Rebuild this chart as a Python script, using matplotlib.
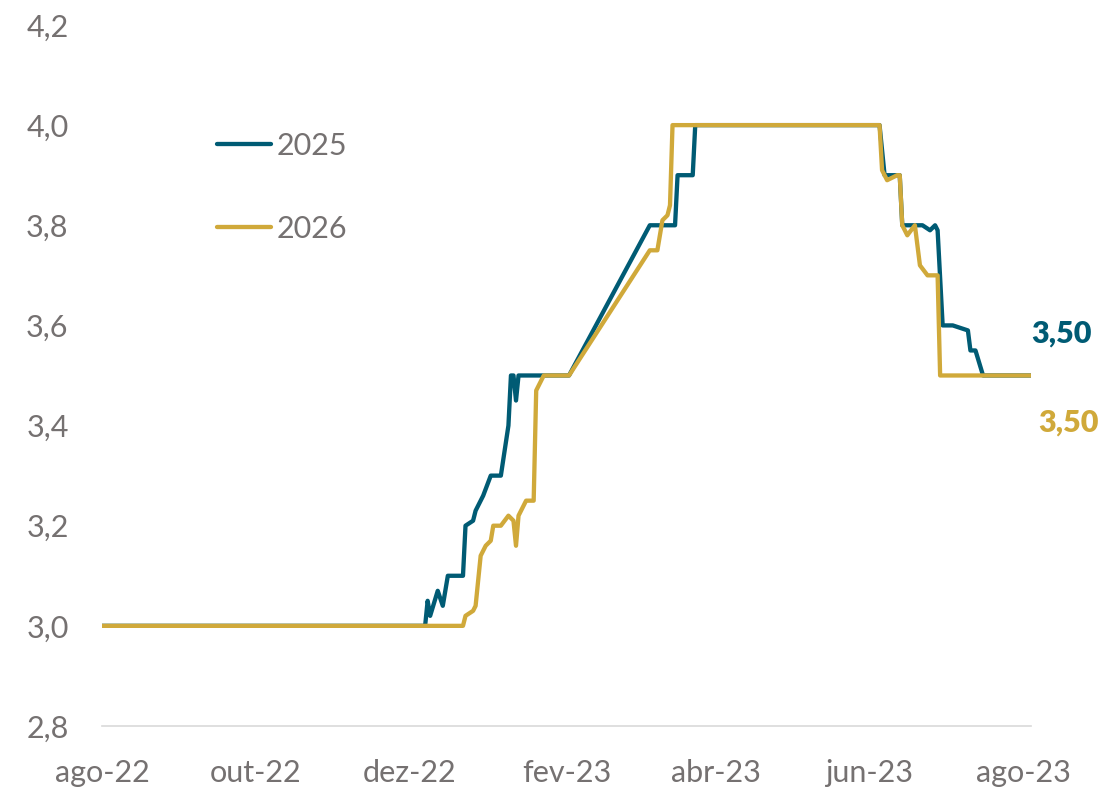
import matplotlib as mpl
import matplotlib.pyplot as plt
import pandas as pd

mpl.rcParams.update(
    {
        "font.family": ["Lato", "DejaVu Sans"],
        "font.size": 22,
        "axes.spines.top": False,
        "axes.spines.right": False,
        "axes.spines.left": False,
        "figure.facecolor": "white",
    }
)

C_BLUE = "#005B74"
C_GOLD = "#D0A93A"
C_TEXT = "#757171"
C_AXIS = "#D9D9D9"

# 2025 expectation series (breakpoints)
dates_2025 = [
    "2022-08-01", "2022-12-07", "2022-12-08", "2022-12-09", "2022-12-12",
    "2022-12-14", "2022-12-16", "2022-12-22", "2022-12-23", "2022-12-26",
    "2022-12-27", "2022-12-29", "2022-12-30", "2023-01-02", "2023-01-06",
    "2023-01-09", "2023-01-10", "2023-01-11", "2023-01-12", "2023-01-13",
    "2023-02-02", "2023-03-06", "2023-03-16", "2023-03-17", "2023-03-23",
    "2023-03-24", "2023-06-05", "2023-06-07", "2023-06-13", "2023-06-14",
    "2023-06-22", "2023-06-25", "2023-06-27", "2023-06-28", "2023-06-30",
    "2023-07-04", "2023-07-10", "2023-07-11", "2023-07-13", "2023-07-16",
    "2023-08-04",
]
vals_2025 = [
    3.00, 3.00, 3.05, 3.02, 3.07,
    3.04, 3.10, 3.10, 3.20, 3.21,
    3.23, 3.25, 3.26, 3.30, 3.30,
    3.40, 3.50, 3.50, 3.45, 3.50,
    3.50, 3.80, 3.80, 3.90, 3.90,
    4.00, 4.00, 3.90, 3.90, 3.80,
    3.80, 3.79, 3.80, 3.79, 3.60,
    3.60, 3.59, 3.55, 3.55, 3.50,
    3.50,
]

# 2026 expectation series
dates_2026 = [
    "2022-08-01", "2022-12-22", "2022-12-23", "2022-12-26", "2022-12-27",
    "2022-12-29", "2022-12-31", "2023-01-02", "2023-01-03", "2023-01-06",
    "2023-01-09", "2023-01-11", "2023-01-12", "2023-01-13", "2023-01-16",
    "2023-01-19", "2023-01-20", "2023-01-23", "2023-02-02", "2023-03-06",
    "2023-03-09", "2023-03-10", "2023-03-11", "2023-03-13", "2023-03-14",
    "2023-03-15", "2023-06-05", "2023-06-06", "2023-06-08", "2023-06-12",
    "2023-06-13", "2023-06-14", "2023-06-16", "2023-06-19", "2023-06-21",
    "2023-06-24", "2023-06-28", "2023-06-29", "2023-08-04",
]
vals_2026 = [
    3.00, 3.00, 3.02, 3.03, 3.04,
    3.14, 3.16, 3.17, 3.20, 3.20,
    3.22, 3.21, 3.16, 3.22, 3.25,
    3.25, 3.47, 3.50, 3.50, 3.75,
    3.75, 3.78, 3.81, 3.82, 3.84,
    4.00, 4.00, 3.91, 3.89, 3.90,
    3.90, 3.80, 3.78, 3.80, 3.72,
    3.70, 3.70, 3.50, 3.50,
]

tick_dates = ["2022-08-01", "2022-10-01", "2022-12-01", "2023-02-01",
              "2023-04-01", "2023-06-01", "2023-08-01"]
tick_labels = ["ago-22", "out-22", "dez-22", "fev-23", "abr-23", "jun-23", "ago-23"]
y_ticks = [2.8, 3.0, 3.2, 3.4, 3.6, 3.8, 4.0, 4.2]

x25 = pd.to_datetime(dates_2025)
x26 = pd.to_datetime(dates_2026)

fig = plt.figure(figsize=(11.06, 7.93), dpi=100)
ax = fig.add_axes([0.0922, 0.0845, 0.8400, 0.884])

ax.plot(x25, vals_2025, color=C_BLUE, lw=3.1, label="2025", solid_joinstyle="round")
ax.plot(x26, vals_2026, color=C_GOLD, lw=3.1, label="2026", solid_joinstyle="round")

ax.set_xlim(x25[0], x25[-1])
ax.set_ylim(2.8, 4.2)
ax.set_yticks(y_ticks)
ax.set_yticklabels([f"{v:.1f}".replace(".", ",") for v in y_ticks])
ax.set_xticks(pd.to_datetime(tick_dates))
ax.set_xticklabels(tick_labels)
ax.tick_params(axis="both", length=0, colors=C_TEXT, labelsize=22)
ax.tick_params(axis="y", pad=24)
ax.tick_params(axis="x", pad=24)
ax.spines["bottom"].set_color(C_AXIS)
ax.spines["bottom"].set_linewidth(1.2)

# end-of-series labels
lab_font = dict(family=["Lato", "DejaVu Sans"], fontweight="heavy", fontsize=22)
ax.annotate(f"{vals_2025[-1]:.2f}".replace(".", ","), (x25[-1], vals_2025[-1]),
            xytext=(0, 30), textcoords="offset points", ha="left", va="center",
            color=C_BLUE, annotation_clip=False, **lab_font)
ax.annotate(f"{vals_2026[-1]:.2f}".replace(".", ","), (x26[-1], vals_2026[-1]),
            xytext=(5, -34), textcoords="offset points", ha="left", va="center",
            color=C_GOLD, annotation_clip=False, **lab_font)

leg = ax.legend(loc="center left", bbox_to_anchor=(0.124, 0.768), frameon=False,
                handlelength=1.75, handletextpad=0.2, labelspacing=1.8,
                borderpad=0, borderaxespad=0, fontsize=22)
for t in leg.get_texts():
    t.set_color(C_TEXT)
for h in leg.get_lines():
    h.set_linewidth(3.1)
    h.set_solid_capstyle("round")

fig.savefig("out.png", dpi=100)
